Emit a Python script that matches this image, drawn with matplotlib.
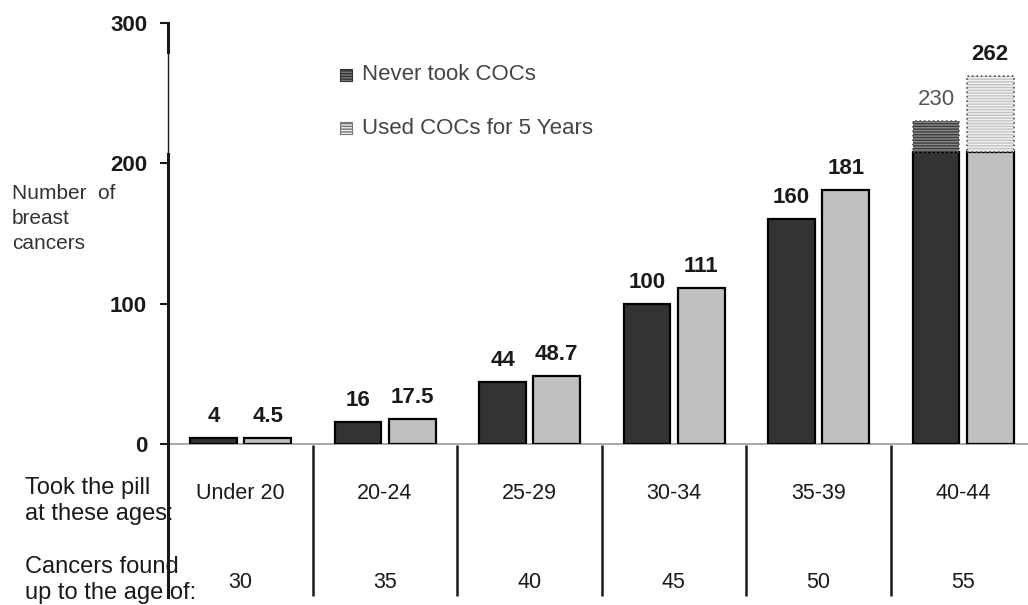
import numpy as np
import matplotlib.pyplot as plt
from matplotlib.patches import Rectangle

# values
age_groups = ['Under 20', '20-24', '25-29', '30-34', '35-39', '40-44']
cancer_ages = ['30', '35', '40', '45', '50', '55']
never_took = [4, 16, 44, 100, 160, 230]
used_5y = [4.5, 17.5, 48.7, 111, 181, 262]
break_at = 208  # tallest bars are drawn solid up to here, hatched above

plt.rcParams['font.family'] = ['Liberation Sans', 'DejaVu Sans']
txt = '#1a1a1a'

W, H = 1028, 605
fig = plt.figure(figsize=(W / 100, H / 100), dpi=100)
ax = fig.add_axes([168 / W, (H - 444) / H, 867 / W, 421 / H])
ax.set_xlim(0, 6)
ax.set_ylim(0, 300)

x = np.arange(len(age_groups))
bw = 0.325
series = [
    (never_took, x + 0.315, '#333333', '#8c8c8c', '#3a3a3a'),
    (used_5y, x + 0.69, '#c0c0c0', '#f0f0f0', '#c4c4c4'),
]

for k, (vals, xs, face, hface, hcol) in enumerate(series):
    for i, (xc, v) in enumerate(zip(xs, vals)):
        top = min(v, break_at)
        ax.bar(xc, top, bw, color=face, edgecolor='black', linewidth=1.6, zorder=3)
        if v > break_at:
            ax.bar(xc, v - break_at, bw, bottom=break_at, color=hface,
                   edgecolor=hcol, hatch='------', linewidth=0, zorder=3)
            ax.bar(xc, v - break_at, bw, bottom=break_at, fill=False,
                   edgecolor='#555555', linestyle=':', linewidth=1.2, zorder=4)
        broken_dark = (v > break_at and k == 0)
        ax.annotate(f'{v:g}', (xc, v), xytext=(0, 11.5), textcoords='offset points',
                    ha='center', va='baseline', fontsize=16,
                    fontweight='normal' if broken_dark else 'bold',
                    color='#555555' if broken_dark else txt)

# axes styling
for s in ['top', 'right', 'left']:
    ax.spines[s].set_visible(False)
ax.spines['bottom'].set_color('#999999')
ax.spines['bottom'].set_linewidth(1.2)
ax.set_xticks([])
ax.set_yticks([0, 100, 200, 300])
ax.set_yticklabels(['0', '100', '200', '300'], fontsize=16, fontweight='bold', color=txt)
ax.tick_params(axis='y', length=6, width=1.5, pad=9, color=txt)

# left axis line: thick, thin section, thick, running down through the table
ax.plot([0, 0], [300, 279], color=txt, lw=2.2, clip_on=False, zorder=5)
ax.plot([0, 0], [279, 207], color=txt, lw=1.0, clip_on=False, zorder=5)
ax.plot([0, 0], [207, -109], color=txt, lw=2.2, clip_on=False, zorder=5)

# table below the bars
ax.vlines(x[1:], -1, -108, colors=txt, lw=1.8, clip_on=False)
for i in range(len(age_groups)):
    ax.text(i + 0.5, -35, age_groups[i], ha='center', va='center', fontsize=15.5, color=txt)
    ax.text(i + 0.5, -99, cancer_ages[i], ha='center', va='center', fontsize=15.5, color=txt)

fig.text(25 / W, 1 - 501 / H, 'Took the pill\nat these ages:', ha='left', va='center',
         fontsize=17, linespacing=1.2, color=txt)
fig.text(25 / W, 1 - 580 / H, 'Cancers found\nup to the age of:', ha='left', va='center',
         fontsize=17, linespacing=1.2, color=txt)

fig.text(12 / W, 1 - 219 / H, 'Number  of\nbreast\ncancers', ha='left', va='center',
         fontsize=15, linespacing=1.4, color='#333333')

# legend
legend_items = [('Never took COCs', '#7a7a7a', '#333333', 75),
                ('Used COCs for 5 Years', '#eeeeee', '#777777', 128)]
for label, hface, hcol, ypx in legend_items:
    fig.patches.append(Rectangle((340 / W, 1 - (ypx + 6) / H), 12 / W, 12 / H,
                                 transform=fig.transFigure, facecolor=hface,
                                 edgecolor=hcol, hatch='------', linewidth=0.8))
    fig.text(362 / W, 1 - ypx / H, label, ha='left', va='center', fontsize=16,
             color='#444444')

fig.savefig('out.png', dpi=100)
